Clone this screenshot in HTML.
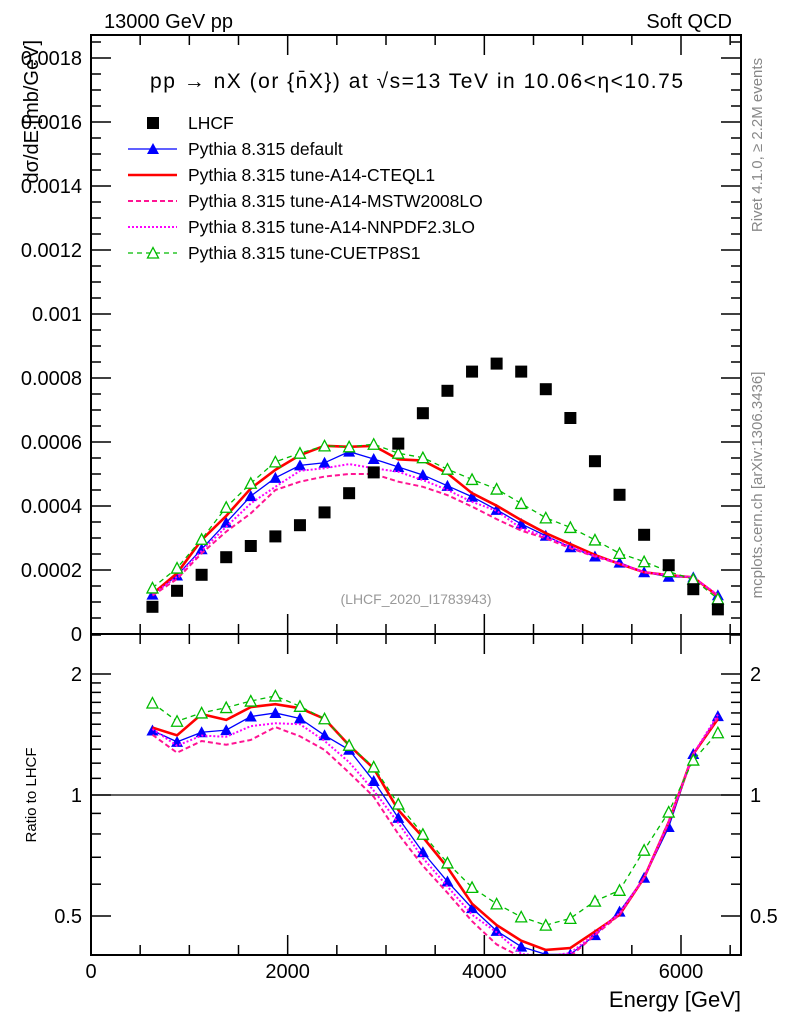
<!DOCTYPE html>
<html><head><meta charset="utf-8"><style>
body{margin:0;background:#fff}
svg{font-family:"Liberation Sans",Arial,sans-serif}
</style></head><body>
<svg id="c" width="786" height="1024" xmlns="http://www.w3.org/2000/svg">
<text x="104" y="28" font-size="20">13000 GeV pp</text>
<text x="732" y="28" font-size="20" text-anchor="end">Soft QCD</text>
<text x="150" y="88" font-size="21" textLength="533" lengthAdjust="spacing">pp  →  nX (or {n̄X}) at √s=13 TeV in 10.06&lt;η&lt;10.75</text>
<text transform="translate(762,145) rotate(-90)" font-size="15" fill="#888" text-anchor="middle">Rivet 4.1.0, ≥ 2.2M events</text>
<text transform="translate(762,485) rotate(-90)" font-size="15" fill="#888" text-anchor="middle">mcplots.cern.ch [arXiv:1306.3436]</text>
<text transform="translate(38,40) rotate(-90)" font-size="20" text-anchor="end">dσ/dE [mb/GeV]</text>
<text transform="translate(36,795) rotate(-90)" font-size="15" text-anchor="middle">Ratio to LHCF</text>
<text x="741" y="1007" font-size="22" text-anchor="end">Energy [GeV]</text>
<text x="416" y="604" font-size="14" fill="#999" text-anchor="middle">(LHCF_2020_I1783943)</text>
<g id="main"></g><g id="ratio"></g><g id="legend"></g>
<rect x="91" y="35" width="650" height="599" fill="none" stroke="#000" stroke-width="2"/>
<rect x="91" y="634" width="650" height="321" fill="none" stroke="#000" stroke-width="2"/>
</svg>
<script>
const energies=[625,875,1125,1375,1625,1875,2125,2375,2625,2875,3125,3375,3625,3875,4125,4375,4625,4875,5125,5375,5625,5875,6125,6375];
const lhcf=[0.000085,0.000135,0.000185,0.00024,0.000275,0.000305,0.00034,0.00038,0.00044,0.000505,0.000595,0.00069,0.00076,0.00082,0.000845,0.00082,0.000765,0.000675,0.00054,0.000435,0.00031,0.000215,0.00014,0.000077];
const pyDefault=[0.000123,0.000183,0.000265,0.000348,0.000431,0.000488,0.000527,0.000535,0.00057,0.000547,0.000522,0.000497,0.000463,0.000429,0.000388,0.000344,0.000307,0.000271,0.000242,0.000223,0.000193,0.000179,0.000177,0.000121];
const pyCteq=[0.000125,0.00019,0.000294,0.000369,0.000455,0.000513,0.000559,0.000588,0.000585,0.000588,0.000546,0.000542,0.000502,0.00044,0.000401,0.000356,0.000315,0.000281,0.000247,0.000219,0.000193,0.000184,0.000177,0.000119];
const pyMstw=[0.00012,0.000172,0.000252,0.00032,0.000377,0.00045,0.000476,0.000492,0.0005,0.0005,0.000476,0.00046,0.000434,0.000398,0.000359,0.000323,0.000299,0.000268,0.000242,0.000219,0.000193,0.000184,0.000177,0.00012];
const pyNnpdf=[0.000124,0.000179,0.00026,0.000335,0.000408,0.00046,0.00051,0.000518,0.000531,0.000518,0.000507,0.000481,0.00045,0.000413,0.000385,0.00033,0.000304,0.000273,0.000244,0.000221,0.000193,0.000184,0.000177,0.000122];
const pyCuetp=[0.000144,0.000206,0.000296,0.000396,0.000471,0.000538,0.000565,0.000588,0.000585,0.000593,0.000565,0.000551,0.000515,0.000483,0.000453,0.000408,0.000363,0.000333,0.000294,0.000252,0.000226,0.000195,0.000171,0.00011];
const yTickLabels=["0","0.0002","0.0004","0.0006","0.0008","0.001","0.0012","0.0014","0.0016","0.0018"];
const xTickLabels=["0","2000","4000","6000"];
const ratioTickLabels=["0.5","1","2"];
const legendLabels=["LHCF","Pythia 8.315 default","Pythia 8.315 tune-A14-CTEQL1","Pythia 8.315 tune-A14-MSTW2008LO","Pythia 8.315 tune-A14-NNPDF2.3LO","Pythia 8.315 tune-CUETP8S1"];

const NS="http://www.w3.org/2000/svg";
const X=e=>91+e*0.098333;
const Y=v=>634-v*320000;
const R=r=>795-Math.log10(r)*402;
function mk(p,t,a){const e=document.createElementNS(NS,t);for(const k in a)e.setAttribute(k,a[k]);p.appendChild(e);return e;}
const svg=document.getElementById('c');
const gm=document.getElementById('main'),gr=document.getElementById('ratio'),gl=document.getElementById('legend');

for(let i=0;i<=37;i++){const v=i*0.00005,y=Y(v);if(y<36)break;const maj=i%4==0;
 let t=mk(gm,'line',{x1:91,x2:91+(maj?20:10),y1:y,y2:y,stroke:'#000','stroke-width':1.5});
 
 t=mk(gm,'line',{x1:741,x2:741-(maj?20:10),y1:y,y2:y,stroke:'#000','stroke-width':1.5});
 
 if(maj){const l=mk(gm,'text',{x:82,y:y+7,'font-size':20,'text-anchor':'end'});l.textContent=yTickLabels[i/4];
 }}
for(let i=0;i<=13;i++){const e=i*500,x=X(e);const maj=i%4==0;
 for(const [y0,d] of [[634,-1],[35,1],[955,-1],[634,1]]){const t=mk(gm,'line',{x1:x,x2:x,y1:y0,y2:y0+d*(maj?20:10),stroke:'#000','stroke-width':1.5});
 }
 if(maj){const l=mk(gm,'text',{x:x,y:978,'font-size':20,'text-anchor':'middle'});l.textContent=xTickLabels[i/4];
 }}
const rt=[0.4,0.5,0.6,0.7,0.8,0.9,1,1.1,1.2,1.3,1.4,1.5,1.6,1.7,1.8,1.9,2,2.5];
rt.forEach(r=>{const y=R(r);const maj=(r==0.5||r==1||r==2);
 for(const [x0,d] of [[91,1],[741,-1]]){const t=mk(gm,'line',{x1:x0,x2:x0+d*(maj?20:10),y1:y,y2:y,stroke:'#000','stroke-width':1.5});
 }});
ratioTickLabels.forEach(s=>{const y=R(parseFloat(s));
 for(const [x,a] of [[82,'end'],[750,'start']]){const l=mk(gm,'text',{x:x,y:y+7,'font-size':20,'text-anchor':a});l.textContent=s;
 }});
const ref=mk(gm,'line',{x1:91,x2:741,y1:R(1),y2:R(1),stroke:'#000','stroke-width':1.2});


const series=[
 {name:'default',d:pyDefault,c:'#0000ff',w:1.3,dash:'',m:'tri'},
 {name:'cteql1',d:pyCteq,c:'#ff0000',w:2.6,dash:'',m:'none'},
 {name:'mstw2008lo',d:pyMstw,c:'#ff1493',w:2,dash:'5,3',m:'none'},
 {name:'nnpdf23lo',d:pyNnpdf,c:'#ff00ff',w:2,dash:'2,2',m:'none'},
 {name:'cuetp8s1',d:pyCuetp,c:'#00bb00',w:1.3,dash:'5,4',m:'otri'}];
function marker(g,m,x,y,c){
 if(m=='tri'){return mk(g,'path',{d:`M${x-6},${y+5}L${x+6},${y+5}L${x},${y-6}Z`,fill:c});}
 if(m=='otri'){return mk(g,'path',{d:`M${x-5.5},${y+5}L${x+5.5},${y+5}L${x},${y-5.5}Z`,fill:'#fff',stroke:c,'stroke-width':1.3});}
 return null;}
function clipR(r){return Math.max(0.395,Math.min(2.55,r));}
const cp=mk(svg,'clipPath',{id:'rc'});mk(cp,'rect',{x:91,y:634,width:650,height:321});
gr.setAttribute('clip-path','url(#rc)');
series.forEach(s=>{
 let pts=s.d.map((v,i)=>X(energies[i])+','+Y(v)).join(' ');
 const pl=mk(gm,'polyline',{points:pts,fill:'none',stroke:s.c,'stroke-width':s.w,'stroke-dasharray':s.dash});
 
 let rp=s.d.map((v,i)=>X(energies[i])+','+R(clipR(v/lhcf[i]))).join(' ');
 const rl=mk(gr,'polyline',{points:rp,fill:'none',stroke:s.c,'stroke-width':s.w,'stroke-dasharray':s.dash});
 
 s.d.forEach((v,i)=>{const m1=marker(gm,s.m,X(energies[i]),Y(v),s.c);
  if(m1){}
  const m2=marker(gr,s.m,X(energies[i]),R(clipR(v/lhcf[i])),s.c);
  if(m2){}});
});
lhcf.forEach((v,i)=>{const r=mk(gm,'rect',{x:X(energies[i])-6,y:Y(v)-6,width:12,height:12,fill:'#000'});
 });
legendLabels.forEach((s,i)=>{const y=123+i*26;
 const g=mk(gl,'g',{});
 if(i==0){mk(g,'rect',{x:147,y:y-6,width:12,height:12,fill:'#000'});}
 else{const se=series[i-1];mk(g,'line',{x1:128,x2:177,y1:y,y2:y,stroke:se.c,'stroke-width':se.w,'stroke-dasharray':se.dash});marker(g,se.m,153,y,se.c);}
 const t=mk(g,'text',{x:188,y:y+6,'font-size':17.5});t.textContent=s;});
</script>
</body></html>
